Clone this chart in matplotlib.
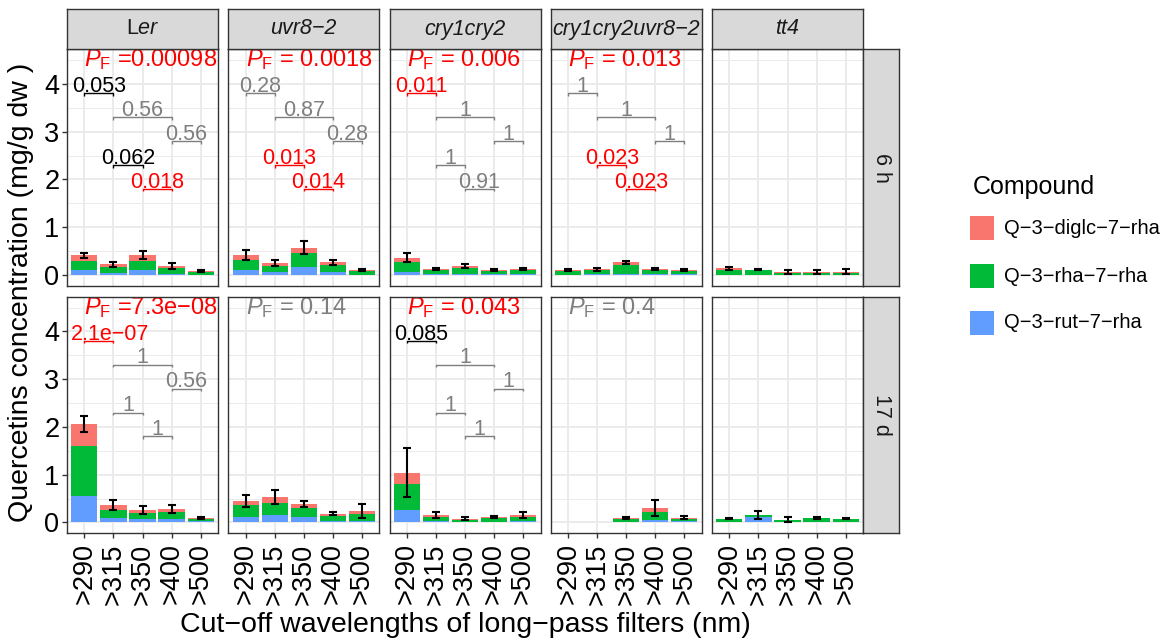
import numpy as np
import matplotlib
matplotlib.use("Agg")
import matplotlib.pyplot as plt
from matplotlib.patches import Rectangle

plt.rcParams['font.family'] = ['Liberation Sans', 'DejaVu Sans']
plt.rcParams['mathtext.fontset'] = 'custom'
plt.rcParams['mathtext.rm'] = 'Liberation Sans'
plt.rcParams['mathtext.it'] = 'Liberation Sans:italic'
plt.rcParams['mathtext.bf'] = 'Liberation Sans:bold'

MINUS = "\u2212"

# ---- data ---------------------------------------------------------------
genotypes = ["Ler", "uvr8" + MINUS + "2", "cry1cry2", "cry1cry2uvr8" + MINUS + "2", "tt4"]
genotype_labels = [r"L$\mathit{er}$", "uvr8" + MINUS + "2", "cry1cry2",
                   "cry1cry2uvr8" + MINUS + "2", "tt4"]
times = ["6 h", "17 d"]
filters = [">290", ">315", ">350", ">400", ">500"]
compounds = ["Q" + MINUS + "3" + MINUS + "diglc" + MINUS + "7" + MINUS + "rha",
             "Q" + MINUS + "3" + MINUS + "rha" + MINUS + "7" + MINUS + "rha",
             "Q" + MINUS + "3" + MINUS + "rut" + MINUS + "7" + MINUS + "rha"]

nan = np.nan
# per genotype, per filter (mg/g dw)
rut_6h = [[0.12, 0.06, 0.11, 0.02, 0.01],
          [0.11, 0.07, 0.17, 0.07, 0.01],
          [0.08, 0.02, 0.03, 0.02, 0.02],
          [0.01, 0.02, 0.03, 0.02, 0.02],
          [0.01, 0.01, 0.01, 0.01, 0.01]]
rha_6h = [[0.19, 0.11, 0.20, 0.13, 0.07],
          [0.21, 0.12, 0.29, 0.14, 0.08],
          [0.19, 0.09, 0.12, 0.08, 0.09],
          [0.08, 0.09, 0.18, 0.09, 0.08],
          [0.10, 0.10, 0.04, 0.05, 0.05]]
diglc_6h = [[0.11, 0.06, 0.11, 0.04, 0.02],
            [0.10, 0.07, 0.12, 0.06, 0.02],
            [0.10, 0.03, 0.04, 0.02, 0.02],
            [0.02, 0.02, 0.06, 0.02, 0.02],
            [0.04, 0.01, 0.03, 0.02, 0.02]]
err_6h = [[0.05, 0.06, 0.08, 0.06, 0.02],
          [0.10, 0.06, 0.14, 0.05, 0.02],
          [0.10, 0.02, 0.04, 0.02, 0.02],
          [0.02, 0.03, 0.03, 0.02, 0.02],
          [0.03, 0.01, 0.04, 0.04, 0.05]]

rut_17d = [[0.56, 0.10, 0.08, 0.08, 0.03],
           [0.12, 0.16, 0.12, 0.04, 0.04],
           [0.26, 0.04, 0.02, 0.02, 0.03],
           [nan, nan, 0.01, 0.06, 0.03],
           [0.00, 0.12, 0.00, 0.01, 0.00]]
rha_17d = [[1.04, 0.17, 0.12, 0.15, 0.05],
           [0.25, 0.25, 0.19, 0.10, 0.14],
           [0.55, 0.08, 0.03, 0.07, 0.08],
           [nan, nan, 0.07, 0.17, 0.05],
           [0.07, 0.03, 0.05, 0.08, 0.07]]
diglc_17d = [[0.46, 0.10, 0.06, 0.05, 0.02],
             [0.08, 0.12, 0.08, 0.04, 0.06],
             [0.23, 0.03, 0.03, 0.02, 0.05],
             [nan, nan, 0.01, 0.08, 0.02],
             [0.005, 0.005, 0.005, 0.005, 0.005]]
err_17d = [[0.17, 0.10, 0.09, 0.08, 0.02],
           [0.13, 0.14, 0.06, 0.03, 0.15],
           [0.51, 0.06, 0.03, 0.02, 0.06],
           [nan, nan, 0.02, 0.17, 0.03],
           [0.01, 0.09, 0.05, 0.02, 0.01]]

# one-way test P values per genotype (None: not tested)
pf_6h = [0.00098, 0.0018, 0.006, 0.013, None]
pf_17d = [7.3e-08, 0.14, 0.043, 0.4, None]

# post-hoc comparisons between filters
pairs = [(1, 2), (2, 4), (4, 5), (2, 3), (3, 4)]
pair_heights = [3.8, 3.3, 2.8, 2.3, 1.8]
pw_6h = [[0.053, 0.56, 0.56, 0.062, 0.018],
         [0.28, 0.87, 0.28, 0.013, 0.014],
         [0.011, 1, 1, 1, 0.91],
         [1, 1, 1, 0.023, 0.023],
         None]
pw_17d = [[2.1e-07, 1, 0.56, 1, 1],
          None,
          [0.085, 1, 1, 1, 1],
          None,
          None]

# ---- styling ------------------------------------------------------------
col_diglc = "#F8766D"
col_rha = "#00BA38"
col_rut = "#619CFF"
W, H = 1175, 644


def pcol(p):
    if p < 0.05:
        return "#FF0000"
    if p < 0.1:
        return "#000000"
    return "#7F7F7F"


def fmt(p):
    return ("%.2g" % p).replace("-", MINUS)


def fig_rect(x0, y0, x1, y1):
    return [x0 / W, 1 - y1 / H, (x1 - x0) / W, (y1 - y0) / H]


fig = plt.figure(figsize=(W / 100, H / 100), dpi=100)

col_left = [67, 228.25, 389.5, 550.75, 712]
panel_w = 151
row_top = [49, 297]
row_bot = [286, 533]

data = {
    0: (rut_6h, rha_6h, diglc_6h, err_6h, pf_6h, pw_6h),
    1: (rut_17d, rha_17d, diglc_17d, err_17d, pf_17d, pw_17d),
}

x = np.arange(1, len(filters) + 1)

for r in range(2):
    rut, rha, dig, err, pf, pw = data[r]
    for c in range(len(genotypes)):
        ax = fig.add_axes(fig_rect(col_left[c], row_top[r],
                                   col_left[c] + panel_w, row_bot[r]))
        ax.set_xlim(0.4, 5.6)
        ax.set_ylim(-0.22, 4.72)
        ax.set_facecolor("white")
        # grid
        for yv in np.arange(0.5, 4.6, 1.0):
            ax.axhline(yv, color="#EBEBEB", lw=0.7, zorder=0)
        for yv in range(0, 5):
            ax.axhline(yv, color="#EBEBEB", lw=1.4, zorder=0)
        for xv in x:
            ax.axvline(xv, color="#EBEBEB", lw=1.4, zorder=0)

        b = np.array(rut[c], dtype=float)
        g = np.array(rha[c], dtype=float)
        d = np.array(dig[c], dtype=float)
        e = np.array(err[c], dtype=float)
        ax.bar(x, b, width=0.9, color=col_rut, zorder=2, linewidth=0)
        ax.bar(x, g, width=0.9, bottom=b, color=col_rha, zorder=2, linewidth=0)
        ax.bar(x, d, width=0.9, bottom=b + g, color=col_diglc, zorder=2, linewidth=0)
        ax.errorbar(x, b + g + d, yerr=e, fmt="none", ecolor="black",
                    elinewidth=1.5, capsize=3.0, capthick=1.5, zorder=3)

        if pf[c] is not None:
            sep = "=" if c == 0 else "= "
            ax.text(1, 4.5, r"$P_{\mathrm{F}}$ " + sep + fmt(pf[c]),
                    color=pcol(pf[c]), fontsize=17, ha="left", va="center",
                    zorder=4)
        if pw[c] is not None:
            for (i, j), h, p in zip(pairs, pair_heights, pw[c]):
                cc = pcol(p)
                tip = 0.05
                ax.plot([i, i, j, j], [h - tip, h, h, h - tip], color=cc,
                        lw=1.0, solid_capstyle="butt", zorder=4)
                label = fmt(p)
                # labels in exponent notation sit a little to the right
                xc = (i + j) / 2 + (0.38 if "e" in label else 0.0)
                ax.text(xc, h + 0.03, label, color=cc, fontsize=15.5,
                        ha="center", va="baseline", zorder=4)

        for s in ax.spines.values():
            s.set_color("#333333")
            s.set_linewidth(1.0)
            s.set_zorder(5)

        ax.set_yticks([0, 1, 2, 3, 4])
        ax.set_xticks(x)
        ax.tick_params(axis="both", color="#333333", length=3.5, width=1.0,
                       labelcolor="black")
        ax.tick_params(axis="y", labelsize=19.5, pad=2)
        ax.tick_params(axis="x", labelsize=19.5, pad=4)
        if c == 0:
            ax.set_yticklabels(["0", "1", "2", "3", "4"])
        else:
            ax.tick_params(axis="y", left=False, labelleft=False)
        if r == 1:
            ax.set_xticklabels(filters, rotation=90)
        else:
            ax.tick_params(axis="x", bottom=False, labelbottom=False)

        # column strip
        if r == 0:
            sax = fig.add_axes(fig_rect(col_left[c], 9, col_left[c] + panel_w, 49))
            sax.set_facecolor("#D9D9D9")
            sax.set_xticks([])
            sax.set_yticks([])
            for s in sax.spines.values():
                s.set_color("#333333")
                s.set_linewidth(1.0)
            style = "normal" if c == 0 else "italic"
            sax.text(0.5, 0.5, genotype_labels[c], transform=sax.transAxes,
                     ha="center", va="center", fontsize=15.5, color="#1A1A1A",
                     fontstyle=style)

    # row strip
    rax = fig.add_axes(fig_rect(863, row_top[r], 899, row_bot[r]))
    rax.set_facecolor("#D9D9D9")
    rax.set_xticks([])
    rax.set_yticks([])
    for s in rax.spines.values():
        s.set_color("#333333")
        s.set_linewidth(1.0)
    rax.text(0.5, 0.5, times[r], transform=rax.transAxes, rotation=-90,
             ha="center", va="center", fontsize=15.5, color="#1A1A1A")

# axis titles
fig.text(21 / W, 1 - 292 / H, "Quercetins concentration (mg/g dw )", rotation=90,
         ha="center", va="center", fontsize=20.5)
fig.text(465 / W, 1 - 632 / H,
         "Cut" + MINUS + "off wavelengths of long" + MINUS + "pass filters (nm)",
         ha="center", va="baseline", fontsize=20.5)

# legend
fig.text(973 / W, 1 - 187 / H, "Compound", ha="left", va="center", fontsize=18)
legend_cols = [col_diglc, col_rha, col_rut]
legend_y = [228, 276, 323]
for lab, cc, yy in zip(compounds, legend_cols, legend_y):
    fig.patches.append(Rectangle(((970) / W, 1 - (yy + 12) / H), 24 / W, 24 / H,
                                 transform=fig.transFigure, facecolor=cc,
                                 edgecolor="none"))
    fig.text(1004 / W, 1 - yy / H, lab, ha="left", va="center", fontsize=14.5)

fig.savefig("out.png", dpi=100)
